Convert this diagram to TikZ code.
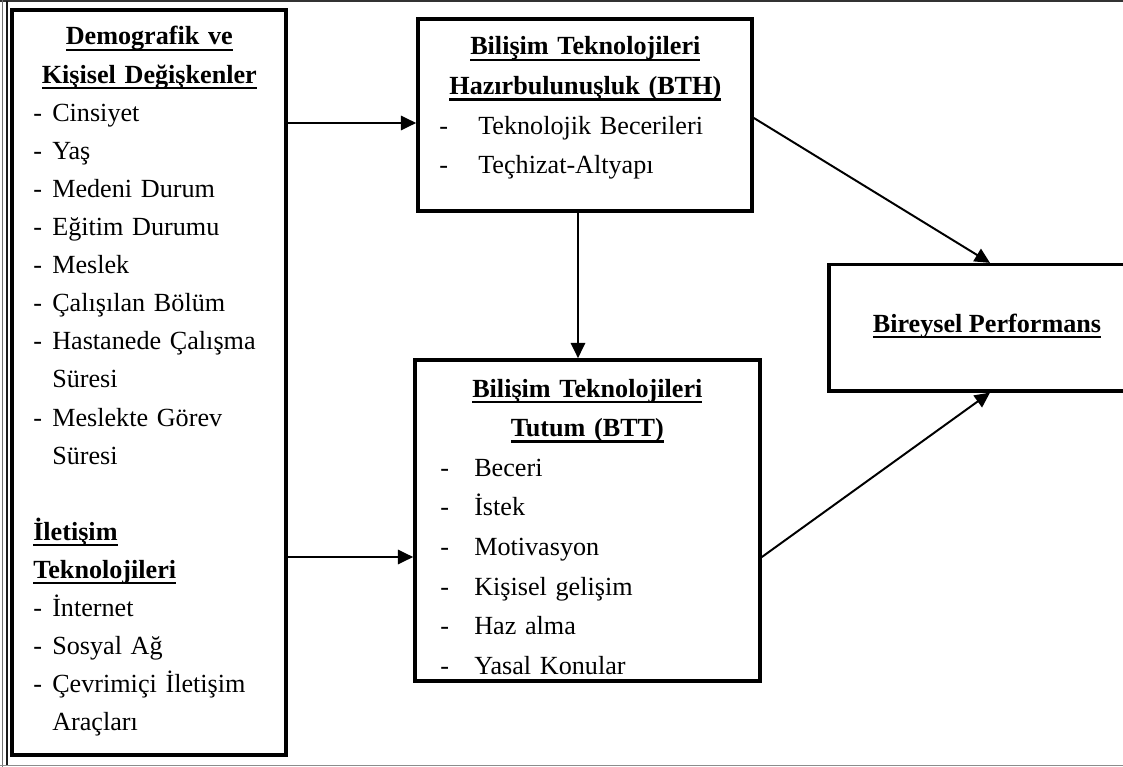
\documentclass[tikz,border=0pt]{standalone}
\usepackage{fontspec}
\setmainfont{Liberation Serif}
\usepackage{tikz}
\usetikzlibrary{arrows.meta,positioning}

% underlined bold title line, centred in the text width
\newcommand\uln[1]{\leavevmode\setbox0\hbox{#1}\rlap{\vrule height -2.6pt depth 4.2pt width \wd0}\box0}
\newcommand\ttl[1]{\makebox[\hsize]{\bfseries\uln{#1}}}
\newcommand\ttll[1]{\leavevmode{\bfseries\uln{#1}}}
\newcommand\itm[2][0.475cm]{\makebox[#1][l]{-}#2}

\begin{document}
\begin{tikzpicture}[
  x=0.025cm, y=-0.025cm,
  box/.style={draw, line width=2.6pt, inner sep=0pt},
  outbox/.style={draw, line width=2.3pt, inner sep=0pt},
  txt/.style={inner sep=0pt, align=left, font=\fontsize{18.6}{27.1}\selectfont},
  txtb/.style={inner sep=0pt, align=left, font=\fontsize{18.6}{28.2}\selectfont},
  arr/.style={-{Triangle[length=0.38cm,width=0.36cm]}, line width=1.4pt},
  frame/.style={line width=1.2pt}
]
\useasboundingbox (0,0) rectangle (1123,767);
\clip (0,0) rectangle (1123,767);

% outer frame
\draw[frame, black!80] (0,1) -- (1123,1);
\draw[frame, black!55, line width=0.8pt] (2.5,0) -- (2.5,767);
\draw[frame, black!90] (7,1) -- (7,765.5);
\draw[frame, black!45] (0,765.5) -- (1123,765.5);

% boxes
\node[box, minimum width=6.85cm, minimum height=18.625cm] (demo) at (149,382.5) {};
\node[box, minimum width=8.35cm, minimum height=4.8cm] (bth) at (585,115) {};
\node[box, minimum width=8.625cm, minimum height=8.025cm] (btt) at (587.5,520.5) {};
\node[outbox, minimum width=7.9cm, minimum height=3.16cm] (perf) at (987,327.75) {};

% texts
\node[txt, text width=5.8cm, anchor=base west] (demotxt) at (33,45) {%
  \ttl{Demografik ve}\\
  \ttl{Kişisel Değişkenler}\\
  \itm{Cinsiyet}\\
  \itm{Yaş}\\
  \itm{Medeni Durum}\\
  \itm{Eğitim Durumu}\\
  \itm{Meslek}\\
  \itm{Çalışılan Bölüm}\\
  \itm{Hastanede Çalışma}\\
  \hspace*{0.475cm}Süresi\\
  \itm{Meslekte Görev}\\
  \hspace*{0.475cm}Süresi\\
  \mbox{}\\
  \ttll{İletişim}\\
  \ttll{Teknolojileri}\\
  \itm{İnternet}\\
  \itm{Sosyal Ağ}\\
  \itm{Çevrimiçi İletişim}\\
  \hspace*{0.475cm}Araçları};
\node[txtb, text width=7.3cm, anchor=base west] (bthtxt) at (439,55) {%
  \ttl{Bilişim Teknolojileri}\\
  \ttl{Hazırbulunuşluk (BTH)}\\
  \itm[0.975cm]{Teknolojik Becerileri}\\
  \itm[0.975cm]{Teçhizat-Altyapı}};
\node[txtb, text width=7.35cm, anchor=base west] (btttxt) at (440,397) {%
  \ttl{Bilişim Teknolojileri}\\
  \ttl{Tutum (BTT)}\\
  \itm[0.85cm]{Beceri}\\
  \itm[0.85cm]{İstek}\\
  \itm[0.85cm]{Motivasyon}\\
  \itm[0.85cm]{Kişisel gelişim}\\
  \itm[0.85cm]{Haz alma}\\
  \itm[0.85cm]{Yasal Konular}};
\node[txt, anchor=base] (perftxt) at (987,332) {\ttll{Bireysel Performans}};

% connectors
\draw[arr] (demo.east |- 0,123) -- (bth.west |- 0,123);
\draw[arr] (demo.east |- 0,557) -- (btt.west |- 0,557);
\draw[arr] (578,0 |- bth.south) -- (578,0 |- btt.north);
\draw[arr] (bth.east |- 0,118) -- (990,0 |- perf.north);
\draw[arr] (btt.east |- 0,557) -- (990,0 |- perf.south);
\end{tikzpicture}
\end{document}
